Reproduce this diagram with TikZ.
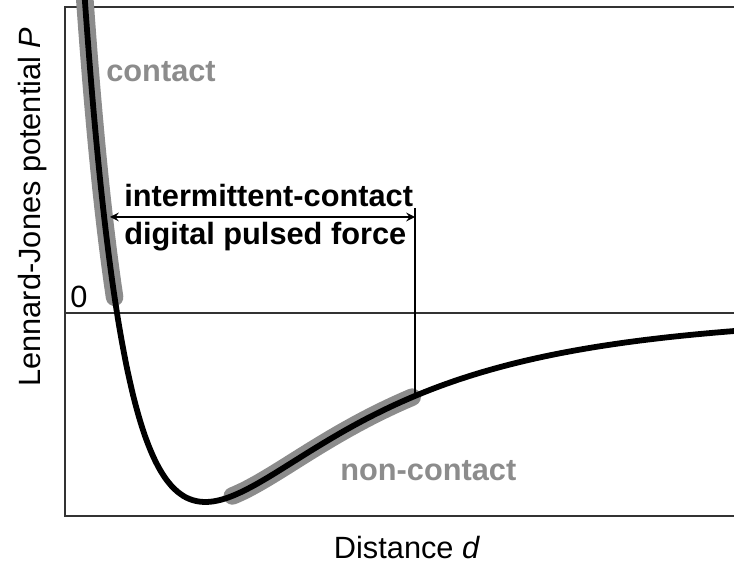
\documentclass[tikz,border=0pt]{standalone}
\usepackage{fontspec}
\setmainfont{Liberation Sans}
\begin{document}
\begin{tikzpicture}[x=0.02cm, y=-0.02cm, >=stealth,
  lbl/.style={font=\fontsize{17.5}{21}\selectfont, inner sep=0pt},
  regime/.style={black!45, line width=10pt, line cap=round},
  curve/.style={black, line width=3.3pt},
  frame/.style={black!80, line width=0.8pt}]

  % ── scale: sigma (px), offset, zero level, well depth ─────────────────────
  \def\sg{721}\def\ox{-604}
  \def\zy{313}\def\dep{189}

  \useasboundingbox (0,0) rectangle (734,564);

  % ── frame and zero line ───────────────────────────────────────────────────
  \draw[frame] (734,7) -- (65,7) -- (65,516) -- (734,516);
  \draw[frame] (65,\zy) -- (734,\zy);

  % ── highlighted regimes ───────────────────────────────────────────────────
  \draw[regime] plot[domain=0.955:0.997, samples=40]
    ({\ox+\sg*\x},{\zy-4*\dep*(1/(\x^12)-1/(\x^6))});
  \draw[regime] plot[domain=1.160:1.410, samples=60]
    ({\ox+\sg*\x},{\zy-4*\dep*(1/(\x^12)-1/(\x^6))});

  % ── Lennard-Jones curve ───────────────────────────────────────────────────
  \begin{scope}
    \clip (65,0) rectangle (734,516);
    \draw[curve] plot[domain=0.952:1.86, samples=220, smooth]
      ({\ox+\sg*\x},{\zy-4*\dep*(1/(\x^12)-1/(\x^6))});
  \end{scope}

  % ── intermittent-contact range ────────────────────────────────────────────
  \coordinate (rl) at (110,217);
  \coordinate (rr) at (415,217);
  \coordinate (rtop) at (415,208);
  \coordinate (rbot) at (415,395);
  \draw[black, line width=0.8pt] (rtop) -- (rbot);
  \draw[<->, black, line width=1.2pt] (rl) -- (rr);

  \node[lbl, font=\fontsize{17.5}{21}\selectfont\bfseries, anchor=base west]
    (ic) at (124,207) {intermittent-contact};
  \node[lbl, font=\fontsize{17.5}{21}\selectfont\bfseries, anchor=base west]
    (dp) at (124,245) {digital pulsed force};

  % ── labels ────────────────────────────────────────────────────────────────
  \node[lbl, font=\fontsize{17.5}{21}\selectfont\bfseries, black!45, anchor=base west]
    (ct) at (106,82) {contact};
  \node[lbl, font=\fontsize{17.5}{21}\selectfont\bfseries, black!45, anchor=base west]
    (nc) at (340,480) {non-contact};
  \node[lbl, anchor=base west] (zero) at (70,308) {0};
  \node[lbl, anchor=base] (xlab) at (407,558) {Distance \textit{d}};
  \node[lbl, rotate=90, anchor=base] (ylab) at (40,207)
    {Lennard-Jones potential \textit{P}};

\end{tikzpicture}
\end{document}
